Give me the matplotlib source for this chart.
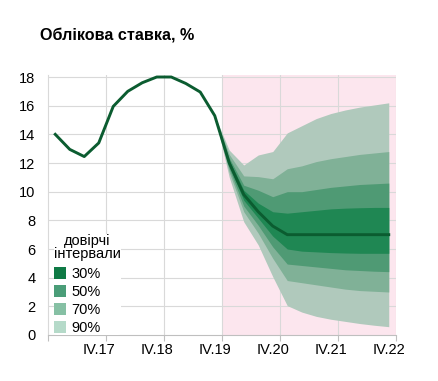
import matplotlib
matplotlib.use("Agg")
import matplotlib.pyplot as plt
from matplotlib.patches import Patch
import numpy as np

plt.rcParams['font.family'] = ['Liberation Sans', 'DejaVu Sans']

# Quarterly data: I.17 ... IV.22 (24 quarters)
rate = [14.0, 12.95, 12.45, 13.4, 15.95, 17.0, 17.6, 18.0, 18.0, 17.55, 16.95, 15.3,
        12.0, 9.8, 8.6, 7.6, 7.0, 7.0, 7.0, 7.0, 7.0, 7.0, 7.0, 7.0]
fan_start = 11  # IV.19
u90 = [15.3, 12.9, 11.86, 12.56, 12.8, 14.1, 14.6, 15.1, 15.45, 15.7, 15.9, 16.05, 16.2]
u70 = [15.3, 12.6, 11.1, 11.05, 10.9, 11.6, 11.8, 12.1, 12.3, 12.45, 12.6, 12.7, 12.8]
u50 = [15.3, 12.35, 10.45, 10.1, 9.65, 10.0, 10.0, 10.15, 10.3, 10.4, 10.5, 10.55, 10.6]
u30 = [15.3, 12.2, 10.1, 9.2, 8.6, 8.5, 8.6, 8.7, 8.8, 8.85, 8.88, 8.9, 8.9]
l30 = [15.3, 11.8, 9.4, 8.15, 6.9, 6.0, 5.85, 5.8, 5.75, 5.72, 5.7, 5.7, 5.7]
l50 = [15.3, 11.6, 9.0, 7.65, 6.15, 4.95, 4.85, 4.75, 4.65, 4.55, 4.5, 4.45, 4.42]
l70 = [15.3, 11.35, 8.6, 7.1, 5.35, 3.8, 3.65, 3.5, 3.35, 3.2, 3.1, 3.05, 3.0]
l90 = [15.3, 11.0, 7.9, 6.28, 4.07, 2.05, 1.6, 1.3, 1.1, 0.95, 0.8, 0.68, 0.58]

tick_labels = ["IV.17", "IV.18", "IV.19", "IV.20", "IV.21", "IV.22"]
tick_pos = [3, 7, 11, 15, 19, 23]
legend_labels = ["30%", "50%", "70%", "90%"]
title = "Облікова ставка, %"
legend_title = "довірчі\nінтервали"

band_colors = ["#1f8753", "#4f9a74", "#80b197", "#b0c9bc"]
legend_colors = ["#0f7a45", "#4a9d78", "#86c0a4", "#b5dac9"]
line_color = "#0b5c30"
pink = "#fce6ee"
grid_color = "#d9d9d9"

fig = plt.figure(figsize=(4.39, 3.81), dpi=100)
ax = fig.add_axes([48/439, 1-335/381, 348/439, 260/381])

x = np.arange(len(rate))
xf = np.arange(fan_start, fan_start + len(u90))

ax.axvspan(fan_start + 0.5, len(rate) - 0.5, color=pink, zorder=0, lw=0)

ax.fill_between(xf, l90, u90, color=band_colors[3], lw=0, zorder=2)
ax.fill_between(xf, l70, u70, color=band_colors[2], lw=0, zorder=2)
ax.fill_between(xf, l50, u50, color=band_colors[1], lw=0, zorder=2)
ax.fill_between(xf, l30, u30, color=band_colors[0], lw=0, zorder=2)
ax.plot(x, rate, color=line_color, lw=2.1, zorder=4, solid_joinstyle='round')

ax.set_xlim(-0.5, len(rate) - 0.5)
ax.set_ylim(0, 18.14)
ax.set_yticks(np.arange(0, 19, 2))
ax.set_xticks(tick_pos)
ax.set_xticklabels(tick_labels)
ax.set_xticks(np.arange(-0.5, len(rate), 4), minor=True)

ax.grid(False)
for yv in np.arange(2, 19, 2):
    ax.axhline(yv, color=grid_color, lw=0.8, zorder=1)
for xv in np.arange(3.5, len(rate), 4):
    ax.axvline(xv, color=grid_color, lw=0.8, zorder=1)

for s in ["top", "right"]:
    ax.spines[s].set_visible(False)
ax.spines["left"].set_color(grid_color)
ax.spines["left"].set_linewidth(0.8)
ax.spines["bottom"].set_color("#bfbfbf")
ax.spines["bottom"].set_linewidth(0.8)
ax.tick_params(axis='y', length=0, pad=9, labelsize=10.5, colors='#000000')
ax.tick_params(axis='x', which='major', length=0, pad=6, labelsize=10.5)
ax.tick_params(axis='x', which='minor', length=4, color="#bfbfbf", width=0.8)

handles = [Patch(facecolor=c, edgecolor='none') for c in legend_colors]
leg = ax.legend(handles, legend_labels, title=legend_title, loc='lower left',
                bbox_to_anchor=(6/348, 0.0), frameon=True, fontsize=10.5,
                title_fontsize=10.5, handlelength=0.85, handleheight=0.85,
                handletextpad=0.35, labelspacing=0.27, borderpad=0.0,
                borderaxespad=0.0, alignment='left')
leg.get_frame().set_facecolor('white')
leg.get_frame().set_edgecolor('none')
leg.get_frame().set_alpha(1)
leg.get_title().set_multialignment('center')
leg.get_title().set_linespacing(0.95)
leg._legend_box.sep = 0.27 * 10.5 + 1.5
leg.set_zorder(5)

fig.text(40/439, 1-35/381, title, fontsize=11.6, fontweight='bold', va='center', ha='left')

fig.savefig("out.png", dpi=100)
